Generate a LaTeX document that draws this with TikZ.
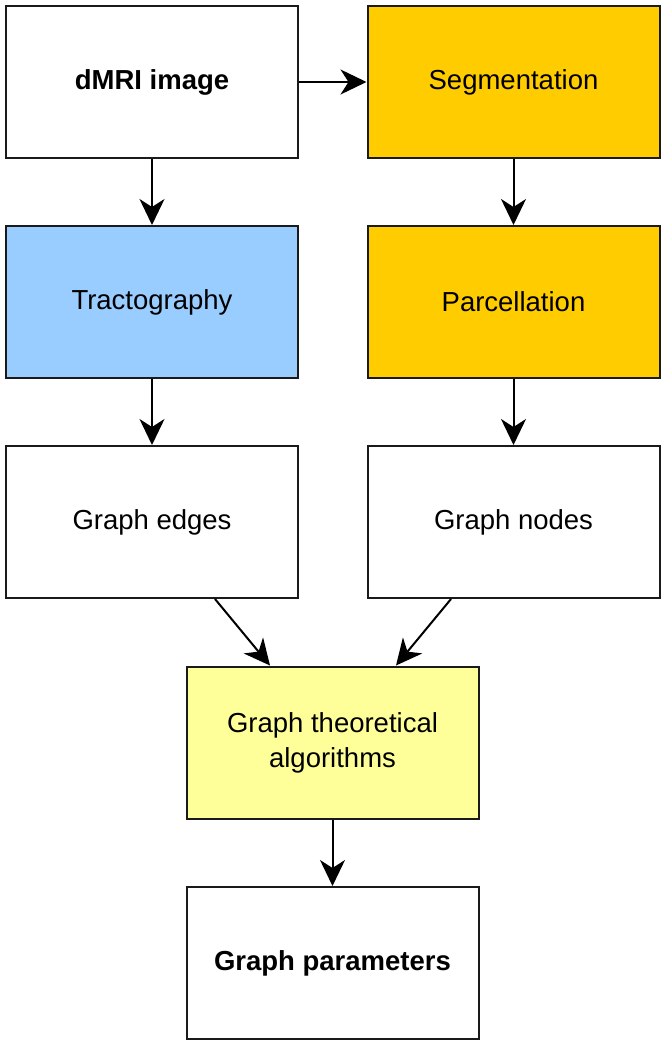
\documentclass[tikz,border=0pt]{standalone}
\usepackage{fontspec}
\setmainfont{Liberation Sans}
\usetikzlibrary{arrows.meta,calc}
\definecolor{segc}{HTML}{FFCC00}
\definecolor{tracc}{HTML}{99CCFF}
\definecolor{gtac}{HTML}{FFFF99}
\definecolor{edgec}{HTML}{1A1A1A}
\tikzset{
  box/.style={draw=edgec, line width=2pt, minimum width=292pt, minimum height=152pt,
    inner sep=0pt, align=center, font=\fontsize{27.5}{35}\selectfont, text=black},
  conn/.style={line width=2pt, draw=black,
    -{Stealth[length=26pt,width=25pt,inset=8pt]}}
}
\begin{document}
\begin{tikzpicture}[x=1pt,y=-1pt]
\useasboundingbox (0,0) rectangle (666,1046);
\node[box, fill=white, font=\fontsize{27.5}{35}\selectfont\bfseries] (dmri) at (152,82) {dMRI image};
\node[box, fill=segc] (seg) at (513.5,82) {Segmentation};
\node[box, fill=tracc] (trac) at (152,302) {Tractography};
\node[box, fill=segc] (parc) at (513.5,302) {Parcellation};
\node[box, fill=white] (ge) at (152,522) {Graph edges};
\node[box, fill=white] (gn) at (513.5,522) {Graph nodes};
\node[box, fill=gtac] (gta) at (332.5,742.5) {Graph theoretical\\algorithms};
\node[box, fill=white, font=\fontsize{27.5}{35}\selectfont\bfseries] (gp) at (332.5,963) {Graph parameters};
\draw[conn] (dmri) -- (seg);
\draw[conn] (dmri) -- (trac);
\draw[conn] (seg) -- (parc);
\draw[conn] (trac) -- (ge);
\draw[conn] (parc) -- (gn);
\draw[conn] ([xshift=63pt]ge.south) -- ([xshift=-62.5pt]gta.north);
\draw[conn] ([xshift=-62.5pt]gn.south) -- ([xshift=63.5pt]gta.north);
\draw[conn] (gta) -- (gp);
\end{tikzpicture}
\end{document}
